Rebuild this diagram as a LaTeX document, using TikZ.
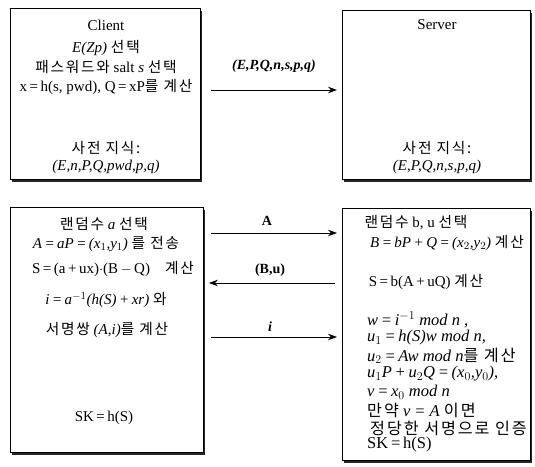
\documentclass[tikz,border=0pt]{standalone}
\usepackage{fontspec}
\setmainfont{Liberation Serif}
\newfontfamily\kr[Scale=0.98,LetterSpace=12]{Noto Sans CJK KR}
\usetikzlibrary{arrows.meta,shadows}
\newcommand{\K}[1]{{\kr #1}}
\newcommand{\eq}{\,=\,}
\newcommand{\pl}{\,+\,}
\begin{document}
\begin{tikzpicture}[x=1pt,y=-1pt,
  box/.style={draw=black, line width=0.9pt, fill=white, anchor=north west,
    drop shadow={shadow xshift=1.8pt, shadow yshift=-2.2pt, fill=black!85, opacity=1}},
  txt/.style={inner sep=0pt, font=\fontsize{15}{17}\selectfont},
  ltxt/.style={inner sep=0pt, anchor=west, font=\fontsize{16.5}{18}\selectfont},
  arr/.style={line width=0.9pt, -{Stealth[length=9pt,width=6.5pt]}},
  lbl/.style={inner sep=0pt, font=\fontsize{14}{16}\selectfont\bfseries}]
\useasboundingbox (0,0) rectangle (535,466);
\fill[white] (0,0) rectangle (535,466);
% boxes
\node[box, minimum width=190pt, minimum height=171pt] (c1) at (10,8) {};
\node[box, minimum width=188pt, minimum height=169pt] (s1) at (342,10) {};
\node[box, minimum width=193pt, minimum height=245pt] (c2) at (10,207) {};
\node[box, minimum width=188pt, minimum height=252pt] (s2) at (342,208) {};
% client top
\node[txt] (ct1) at (106,25) {Client};
\node[txt] (ct2) at (106,48) {\textit{E(Zp)} \K{선택}};
\node[txt] (ct3) at (106,67) {\K{패스워드와} salt \textit{s} \K{선택}};
\node[txt] (ct4) at (106,87) {x\eq h(s, pwd), Q\eq xP\K{를 계산}};
\node[txt] (ct5) at (106,148) {\K{사전 지식:}};
\node[txt] (ct6) at (106,167) {\textit{(E,n,P,Q,pwd,p,q)}};
% server top
\node[txt] (st1) at (437,25) {Server};
\node[txt] (st5) at (437,148) {\K{사전 지식:}};
\node[txt] (st6) at (437,167) {\textit{(E,P,Q,n,s,p,q)}};
% client bottom
\node[txt] (cb1) at (104,224) {\K{랜덤수} \textit{a} \K{선택}};
\node[txt] (cb2) at (106,244) {\textit{A\eq aP\eq(x$_1$,y$_1$)} \K{를 전송}};
\node[txt] (cb3) at (113,269) {S\eq(a\pl ux)$\cdot$(B\,$-$\,Q)\quad\K{계산}};
\node[txt] (cb4) at (106,300) {\textit{i\eq a$^{-1}$(h(S)\pl xr)} \K{와}};
\node[txt] (cb5) at (107,330) {\K{서명쌍} \textit{(A,i)}\K{를 계산}};
\node[txt] (cb6) at (104,418) {SK\eq h(S)};
% server bottom
\node[txt] (sb1) at (416,223) {\K{랜덤수} b, u \K{선택}};
\node[txt] (sb2) at (447,243) {\textit{B\eq bP\pl Q\eq(x$_2$,y$_2$)} \K{계산}};
\node[txt] (sb3) at (426,282) {S\eq b(A\pl uQ) \K{계산}};
\node[ltxt] (sb4) at (367,320) {\textit{w\eq i$^{-1}$ mod n ,}};
\node[ltxt] (sb5) at (367,338) {\textit{u$_1$\eq h(S)w mod n,}};
\node[ltxt] (sb6) at (367,356) {\textit{u$_2$\eq Aw mod n}\K{를 계산}};
\node[ltxt] (sb7) at (367,374) {\textit{u$_1$P\pl u$_2$Q\eq(x$_0$,y$_0$),}};
\node[ltxt] (sb8) at (367,392) {\textit{v\eq x$_0$ mod n}};
\node[ltxt] (sb9) at (367,410) {\K{만약} \textit{v = A} \K{이면}};
\node[ltxt] (sb10) at (370,428) {\K{정당한 서명으로 인증}};
\node[ltxt] (sb11) at (367,445) {SK\eq h(S)};
% arrows
\draw[arr, shorten <=10pt, shorten >=5pt] (c1.east |- 0,90) -- (s1.west |- 0,90);
\node[lbl] (l1) at (274,66) {\textit{(E,P,Q,n,s,p,q)}};
\draw[arr, shorten <=7pt, shorten >=5pt] (c2.east |- 0,233) -- (s2.west |- 0,233);
\node[lbl] (l2) at (267,221) {A};
\draw[arr, shorten <=7pt, shorten >=5pt] (s2.west |- 0,283) -- (c2.east |- 0,283);
\node[lbl] (l3) at (270,270) {(B,u)};
\draw[arr, shorten <=7pt, shorten >=5pt] (c2.east |- 0,337) -- (s2.west |- 0,337);
\node[lbl] (l4) at (270,327) {\textit{i}};
\end{tikzpicture}
\end{document}
